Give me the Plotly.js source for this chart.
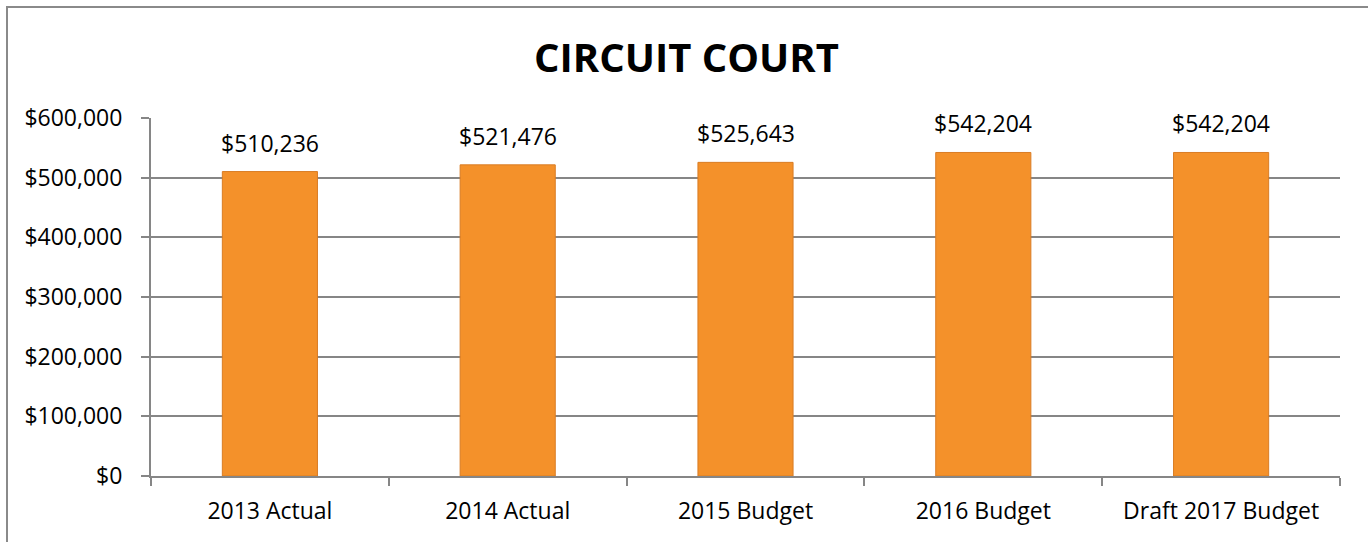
<!DOCTYPE html>
<html>
<head>
<meta charset="utf-8">
<script src="https://cdn.plot.ly/plotly-3.0.1.min.js"></script>
<style>
  html, body { margin: 0; padding: 0; background: #fff; overflow: hidden; }
  #chart { position: absolute; left: 0; top: 0; width: 1368px; height: 542px; }
  #frame { position: absolute; left: 6px; top: 6px; width: 1400px; height: 600px;
           border-left: 2px solid #8a8a8a; border-top: 2px solid #8a8a8a; pointer-events: none; }
</style>
</head>
<body>
<div id="chart"></div>
<div id="frame"></div>
<script>
const categories = ["2013 Actual", "2014 Actual", "2015 Budget", "2016 Budget", "Draft 2017 Budget"];
const values = [510236, 521476, 525643, 542204, 542204];
const tickValues = [0, 100000, 200000, 300000, 400000, 500000, 600000];
const tickLabels = ["$0", "$100,000", "$200,000", "$300,000", "$400,000", "$500,000", "$600,000"];
const titleText = "CIRCUIT COURT";

const fmt = v => "$" + v.toLocaleString("en-US");
const FONT = "Open Sans, sans-serif";

const trace = {
  type: "bar",
  x: categories,
  y: values,
  marker: { color: "#F4912A", line: { color: "#D97C24", width: 1 } },
  hoverinfo: "none"
};

const annotations = categories.map((c, i) => ({
  x: c, y: values[i], xref: "x", yref: "y",
  text: fmt(values[i]), showarrow: false,
  xanchor: "center", yanchor: "bottom", yshift: 11,
  font: { family: FONT, size: 23, color: "#000" }
}));

const layout = {
  width: 1368, height: 542,
  margin: { l: 151, r: 28, t: 118, b: 66, pad: 0 },
  paper_bgcolor: "#fff", plot_bgcolor: "#fff",
  showlegend: false,
  bargap: 0.6,
  title: {
    text: "<b>" + titleText + "</b>",
    font: { family: FONT, size: 40, color: "#000" },
    x: 686.5 / 1368, xanchor: "center", xref: "container",
    y: 1 - 57.5 / 542, yanchor: "middle", yref: "container"
  },
  xaxis: {
    type: "category",
    tickson: "boundaries",
    ticks: "outside", ticklen: 8, tickwidth: 2, tickcolor: "#868686",
    showline: true, linecolor: "#868686", linewidth: 2,
    showgrid: false, zeroline: false,
    ticklabelstandoff: 13,
    tickfont: { family: FONT, size: 23, color: "#000" }
  },
  yaxis: {
    range: [0, 600000],
    tickmode: "array", tickvals: tickValues, ticktext: tickLabels,
    ticks: "outside", ticklen: 8, tickwidth: 2, tickcolor: "#868686",
    showline: true, linecolor: "#868686", linewidth: 2,
    showgrid: true, gridcolor: "#868686", gridwidth: 2,
    zeroline: false,
    ticklabelstandoff: 14,
    tickfont: { family: FONT, size: 23, color: "#000" }
  },
  annotations: annotations
};

Plotly.newPlot("chart", [trace], layout, { displayModeBar: false, staticPlot: true });
</script>
</body>
</html>
